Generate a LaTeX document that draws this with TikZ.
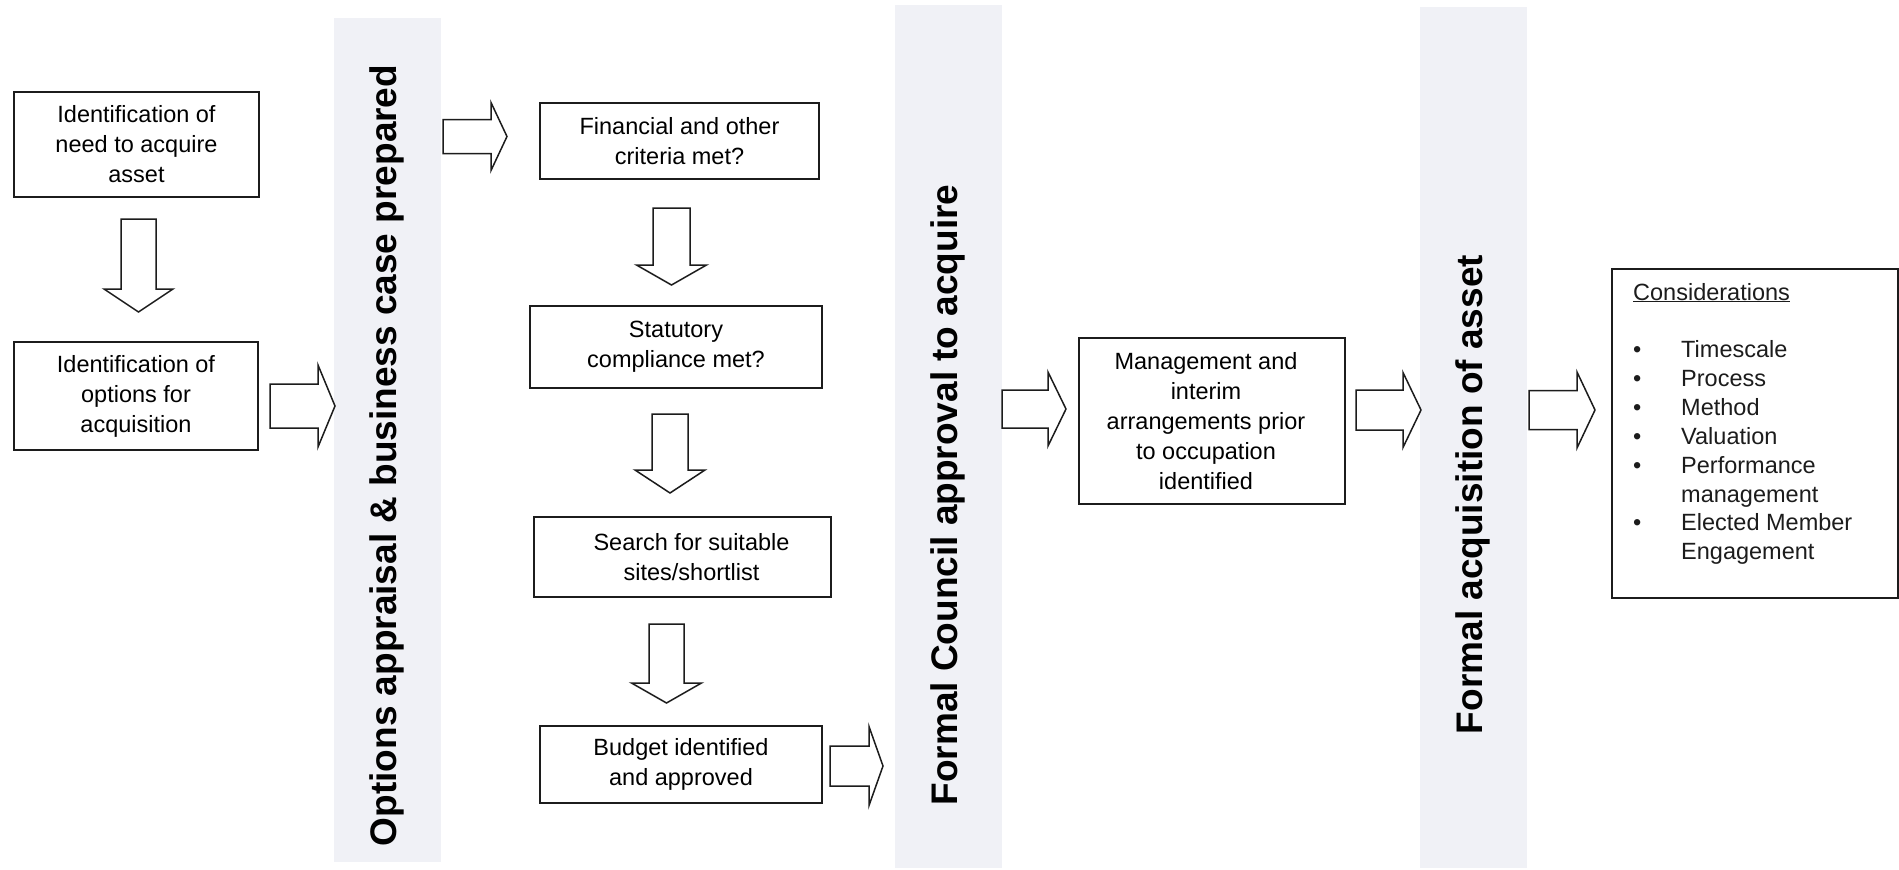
\documentclass[tikz,border=0pt]{standalone}
\usepackage{fontspec}
\setmainfont{Liberation Sans}
\definecolor{bandc}{RGB}{240,241,246}
\definecolor{ink}{RGB}{28,28,28}
\newcommand\boxfont{\fontsize{23.5}{30}\selectfont}
\newcommand\bandfont{\fontsize{37}{44}\selectfont\bfseries}
\newcommand\rarr[6]{\draw[blockarrow] (#1,{#4-#5}) -- (#2,{#4-#5}) -- (#2,{#4-#6}) -- (#3,#4) -- (#2,{#4+#6}) -- (#2,{#4+#5}) -- (#1,{#4+#5}) -- cycle;}
\newcommand\darr[6]{\draw[blockarrow] ({#1-#5},#2) -- ({#1-#5},#3) -- ({#1-#6},#3) -- (#1,#4) -- ({#1+#6},#3) -- ({#1+#5},#3) -- ({#1+#5},#2) -- cycle;}
\tikzset{
  procbox/.style={draw=ink, line width=1.8pt, fill=white, align=center, font=\boxfont, inner sep=0pt},
  bandbox/.style={fill=bandc, draw=none, inner sep=0pt},
  bandtext/.style={rotate=90, anchor=base, font=\bandfont, inner sep=0pt, text=black},
  blockarrow/.style={draw=ink, line width=1.5pt, fill=white, line join=miter},
  constext/.style={anchor=base west, inner sep=0pt, font=\boxfont, text=ink},
}
\begin{document}
\begin{tikzpicture}[x=1pt,y=-1pt]
\useasboundingbox[fill=white] (0,0) rectangle (1899,870);
% bands
\node[bandbox, minimum width=107pt, minimum height=844pt] (band1) at (387.5,440) {};
\node[bandbox, minimum width=107pt, minimum height=863pt] (band2) at (948.5,436.5) {};
\node[bandbox, minimum width=107pt, minimum height=861pt] (band3) at (1473.5,437.5) {};
\node[bandtext] (bt1) at (396,455.5) {Options appraisal \& business case prepared};
\node[bandtext] (bt2) at (957,495) {Formal Council approval to acquire};
\node[bandtext] (bt3) at (1482,494.5) {Formal acquisition of asset};
% boxes
\node[procbox, minimum width=245pt, minimum height=105pt] (need) at (136.5,144.5) {Identification of\\need to acquire\\asset};
\node[procbox, minimum width=244pt, minimum height=108pt] (opts) at (136,396) {Identification of\\options for\\acquisition};
\node[procbox, minimum width=279pt, minimum height=76pt] (fin) at (679.5,141) {Financial and other\\criteria met?};
\node[procbox, minimum width=292pt, minimum height=82pt] (stat) at (676,347) {Statutory\\compliance met?};
\node[procbox, minimum width=297pt, minimum height=80pt] (search) at (682.5,557) {\hspace*{18pt}Search for suitable\\\hspace*{18pt}sites/shortlist};
\node[procbox, minimum width=282pt, minimum height=77pt] (budget) at (681,764.5) {Budget identified\\and approved};
\node[procbox, minimum width=266pt, minimum height=166pt] (mgmt) at (1212,421) {\hspace*{-12pt}Management and\\\hspace*{-12pt}interim\\\hspace*{-12pt}arrangements prior\\\hspace*{-12pt}to occupation\\\hspace*{-12pt}identified};
\node[procbox, minimum width=286pt, minimum height=329pt] (cons) at (1755,433.5) {};
% considerations text
\node[constext] (c0) at (1633,300) {\underline{Considerations}};
\node[constext] (c1) at (1633,357) {\makebox[48pt][l]{\textbullet}Timescale};
\node[constext] (c2) at (1633,386) {\makebox[48pt][l]{\textbullet}Process};
\node[constext] (c3) at (1633,415) {\makebox[48pt][l]{\textbullet}Method};
\node[constext] (c4) at (1633,444) {\makebox[48pt][l]{\textbullet}Valuation};
\node[constext] (c5) at (1633,473) {\makebox[48pt][l]{\textbullet}Performance};
\node[constext] (c6) at (1633,502) {\hspace*{48pt}management};
\node[constext] (c7) at (1633,530.5) {\makebox[48pt][l]{\textbullet}Elected Member};
\node[constext] (c8) at (1633,559) {\hspace*{48pt}Engagement};
% down arrows
\darr{138.5}{219}{289}{312}{17.5}{34.5}
\darr{671.5}{208}{265}{285}{18.5}{35}
\darr{670}{414}{470}{493}{18}{35}
\darr{666.5}{624}{683}{703}{17.5}{35}
% right arrows
\rarr{270}{318}{335}{406}{22}{41}
\rarr{443}{491}{507}{136.5}{17}{34}
\rarr{830}{869}{883}{766}{20}{39.5}
\rarr{1002}{1048}{1066}{409}{19}{37}
\rarr{1356}{1403}{1421}{410}{20}{37.5}
\rarr{1529}{1577}{1595}{410}{19.5}{38}
\end{tikzpicture}
\end{document}
